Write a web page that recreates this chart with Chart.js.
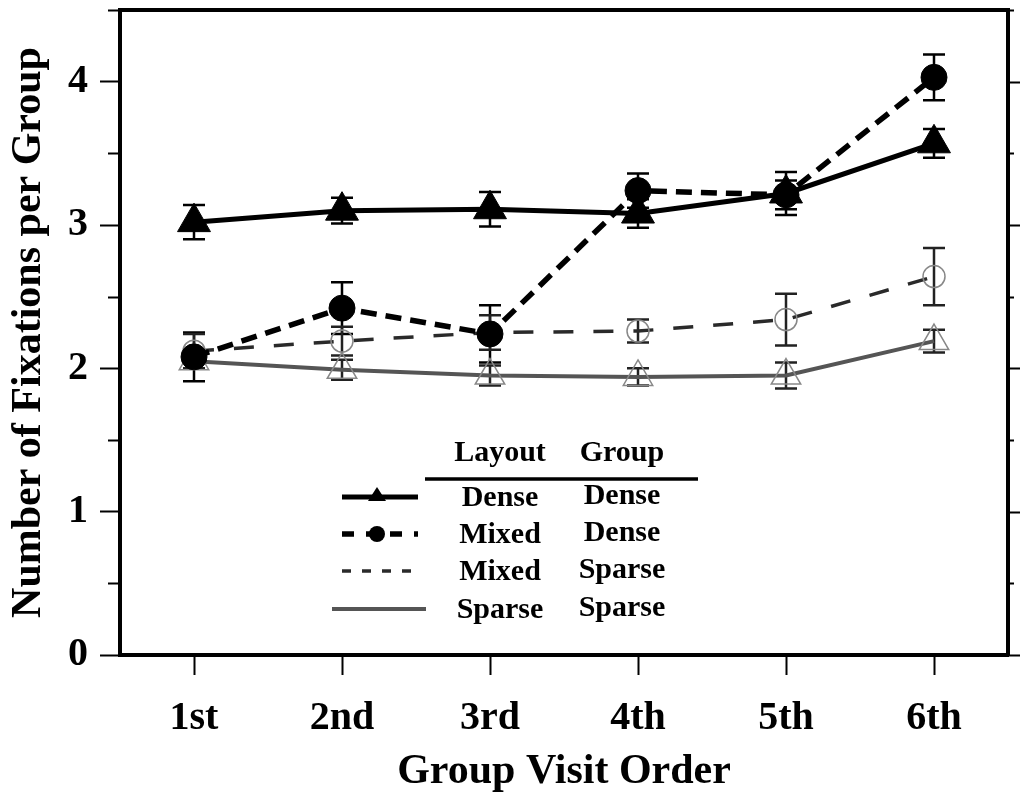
<!DOCTYPE html>
<html>
<head>
<meta charset="utf-8">
<script src="https://cdn.jsdelivr.net/npm/chart.js@4/dist/chart.umd.min.js"></script>
<style>
  html, body { margin: 0; padding: 0; background: #fff; }
  #wrap { width: 1022px; height: 793px; }
</style>
</head>
<body>
<div id="wrap"><canvas id="fixChart"></canvas></div>
<script>
// values
const visits = ['1st', '2nd', '3rd', '4th', '5th', '6th'];
const layouts = ['Dense', 'Mixed', 'Mixed', 'Sparse'];
const groups = ['Dense', 'Dense', 'Sparse', 'Sparse'];

const denseDense = [3.02, 3.10, 3.11, 3.08, 3.22, 3.57];
const denseDenseErr = [0.12, 0.09, 0.12, 0.10, 0.15, 0.10];
const mixedDense = [2.08, 2.42, 2.24, 3.24, 3.21, 4.03];
const mixedDenseErr = [0.17, 0.18, 0.20, 0.12, 0.10, 0.16];
const mixedSparse = [2.12, 2.19, 2.25, 2.26, 2.34, 2.64];
const mixedSparseErr = [0.12, 0.10, 0.12, 0.08, 0.18, 0.20];
const sparseSparse = [2.05, 1.99, 1.95, 1.94, 1.95, 2.19];
const sparseSparseErr = [0.05, 0.07, 0.07, 0.06, 0.09, 0.08];

const yTicks = [0, 1, 2, 3, 4];
const yMinorTicks = [0.5, 1.5, 2.5, 3.5, 4.5];

const serif = "'Liberation Serif', 'DejaVu Serif', serif";

// error bars, drawn under the markers
const errorBars = {
  id: 'errorBars',
  beforeDatasetsDraw(chart) {
    const ctx = chart.ctx;
    const ys = chart.scales.y;
    chart.data.datasets.forEach((ds, i) => {
      const meta = chart.getDatasetMeta(i);
      ctx.save();
      ctx.strokeStyle = ds.errorColor;
      ctx.lineWidth = 2.5;
      meta.data.forEach((pt, j) => {
        const top = ys.getPixelForValue(ds.data[j] + ds.errors[j]);
        const bot = ys.getPixelForValue(ds.data[j] - ds.errors[j]);
        ctx.beginPath();
        ctx.moveTo(pt.x, top); ctx.lineTo(pt.x, bot);
        ctx.moveTo(pt.x - 11, top); ctx.lineTo(pt.x + 11, top);
        ctx.moveTo(pt.x - 11, bot); ctx.lineTo(pt.x + 11, bot);
        ctx.stroke();
      });
      ctx.restore();
    });
  }
};

// short minor ticks on the left, small outward ticks on the right frame
const extraTicks = {
  id: 'extraTicks',
  afterDraw(chart) {
    const ctx = chart.ctx;
    const ys = chart.scales.y;
    const a = chart.chartArea;
    ctx.save();
    ctx.strokeStyle = '#000';
    ctx.lineWidth = 2;
    ctx.beginPath();
    yMinorTicks.forEach(v => {
      const py = Math.round(ys.getPixelForValue(v)) + 0.5;
      ctx.moveTo(a.left - 12, py); ctx.lineTo(a.left, py);
      ctx.moveTo(a.right, py); ctx.lineTo(a.right + 6, py);
    });
    yTicks.forEach(v => {
      const py = Math.round(ys.getPixelForValue(v)) + 0.5;
      ctx.moveTo(a.right, py); ctx.lineTo(a.right + 12, py);
    });
    ctx.stroke();
    ctx.restore();
  }
};

// the two-column legend table inside the plot
const tableLegend = {
  id: 'tableLegend',
  afterDraw(chart) {
    const ctx = chart.ctx;
    const a = chart.chartArea;
    const colA = a.left + 380, colB = a.left + 502;
    const rowY = [497, 534, 571, 609];
    ctx.save();
    ctx.fillStyle = '#000';
    ctx.textAlign = 'center';
    ctx.textBaseline = 'middle';
    ctx.font = 'bold 30px ' + serif;
    ctx.fillText('Layout', colA, 453);
    ctx.fillText('Group', colB, 453);
    ctx.lineWidth = 3.5;
    ctx.strokeStyle = '#000';
    ctx.beginPath();
    ctx.moveTo(a.left + 305, 479); ctx.lineTo(a.left + 578, 479);
    ctx.stroke();

    chart.data.datasets.forEach((ds, i) => {
      const y = rowY[i];
      ctx.fillStyle = '#000';
      ctx.fillText(layouts[i], colA, y + 1);
      ctx.fillText(groups[i], colB, y - 1);

      const x0 = i === 3 ? a.left + 212 : a.left + 222;
      const x1 = i === 3 ? a.left + 306 : a.left + 298;
      ctx.save();
      ctx.strokeStyle = ds.borderColor;
      ctx.lineWidth = ds.borderWidth;
      ctx.setLineDash(ds.legendDash || []);
      ctx.beginPath();
      ctx.moveTo(x0, y); ctx.lineTo(x1, y);
      ctx.stroke();
      ctx.restore();
      const mx = a.left + 257;
      if (ds.legendMarker) {
        ctx.fillStyle = ds.pointBackgroundColor;
        ctx.beginPath();
        if (ds.pointStyle === 'triangle') {
          ctx.moveTo(mx, y - 10); ctx.lineTo(mx + 9, y + 4); ctx.lineTo(mx - 9, y + 4);
        } else {
          ctx.arc(mx, y, 8, 0, Math.PI * 2);
        }
        ctx.closePath();
        ctx.fill();
      }
    });
    ctx.restore();
  }
};

new Chart(document.getElementById('fixChart'), {
  type: 'line',
  data: {
    labels: visits,
    datasets: [
      {
        label: 'Dense / Dense',
        data: denseDense,
        errors: denseDenseErr,
        errorColor: '#000',
        borderColor: '#000',
        borderWidth: 5,
        pointStyle: 'triangle',
        pointRadius: 19,
        pointBackgroundColor: '#000',
        pointBorderColor: '#000',
        pointBorderWidth: 1,
        legendMarker: true
      },
      {
        label: 'Mixed / Dense',
        data: mixedDense,
        errors: mixedDenseErr,
        errorColor: '#000',
        borderColor: '#000',
        borderWidth: 5.5,
        borderDash: [16, 9],
        legendDash: [12, 12],
        pointStyle: 'circle',
        pointRadius: 13,
        pointBackgroundColor: '#000',
        pointBorderColor: '#000',
        pointBorderWidth: 1,
        legendMarker: true
      },
      {
        label: 'Mixed / Sparse',
        data: mixedSparse,
        errors: mixedSparseErr,
        errorColor: '#222',
        borderColor: '#2a2a2a',
        borderWidth: 3.5,
        borderDash: [20, 20],
        legendDash: [9, 11],
        pointStyle: 'circle',
        pointRadius: 11,
        pointBackgroundColor: 'rgba(255,255,255,0)',
        pointBorderColor: '#888',
        pointBorderWidth: 1.5,
        legendMarker: false
      },
      {
        label: 'Sparse / Sparse',
        data: sparseSparse,
        errors: sparseSparseErr,
        errorColor: '#222',
        borderColor: '#555',
        borderWidth: 4,
        pointStyle: 'triangle',
        pointRadius: 17,
        pointBackgroundColor: 'rgba(255,255,255,0)',
        pointBorderColor: '#888',
        pointBorderWidth: 1.5,
        legendMarker: false
      }
    ]
  },
  options: {
    responsive: true,
    maintainAspectRatio: false,
    animation: false,
    layout: { autoPadding: false, padding: { top: 10, right: 14, left: 0, bottom: 0 } },
    elements: { line: { tension: 0 } },
    plugins: {
      legend: { display: false },
      tooltip: { enabled: false }
    },
    scales: {
      x: {
        type: 'category',
        position: 'bottom',
        offset: true,
        afterFit: s => { s.height = 138; s.paddingLeft = 0; s.paddingRight = 0; },
        grid: { drawOnChartArea: false, drawTicks: true, tickLength: 20, tickWidth: 2, tickColor: '#000' },
        border: { display: true, width: 4, color: '#000' },
        ticks: {
          color: '#000', padding: 20, maxRotation: 0, autoSkip: false,
          font: { family: serif, size: 40, weight: 'bold' }
        },
        title: {
          display: true, text: 'Group Visit Order', color: '#000',
          padding: 0, font: { family: serif, size: 42, weight: 'bold', lineHeight: 1 }
        }
      },
      xTop: {
        type: 'category',
        position: 'top',
        offset: true,
        afterFit: s => { s.height = 0; s.paddingLeft = 0; s.paddingRight = 0; },
        grid: { display: false },
        border: { display: true, width: 4, color: '#000' },
        ticks: { display: false }
      },
      y: {
        position: 'left',
        min: 0,
        max: 4.5,
        afterFit: s => { s.width = 120; s.paddingTop = 0; s.paddingBottom = 0; },
        afterBuildTicks: s => { s.ticks = yTicks.map(v => ({ value: v })); },
        grid: { drawOnChartArea: false, drawTicks: true, tickLength: 20, tickWidth: 2, tickColor: '#000' },
        border: { display: true, width: 4, color: '#000' },
        ticks: {
          color: '#000', padding: 12,
          font: { family: serif, size: 40, weight: 'bold' }
        },
        title: {
          display: true, text: 'Number of Fixations per Group', color: '#000',
          padding: { top: 8, bottom: 0 }, font: { family: serif, size: 42, weight: 'bold', lineHeight: 1 }
        }
      },
      yRight: {
        position: 'right',
        min: 0,
        max: 4.5,
        afterFit: s => { s.width = 0; s.paddingTop = 0; s.paddingBottom = 0; },
        grid: { display: false },
        border: { display: true, width: 4, color: '#000' },
        ticks: { display: false }
      }
    }
  },
  plugins: [errorBars, extraTicks, tableLegend]
});
</script>
</body>
</html>
